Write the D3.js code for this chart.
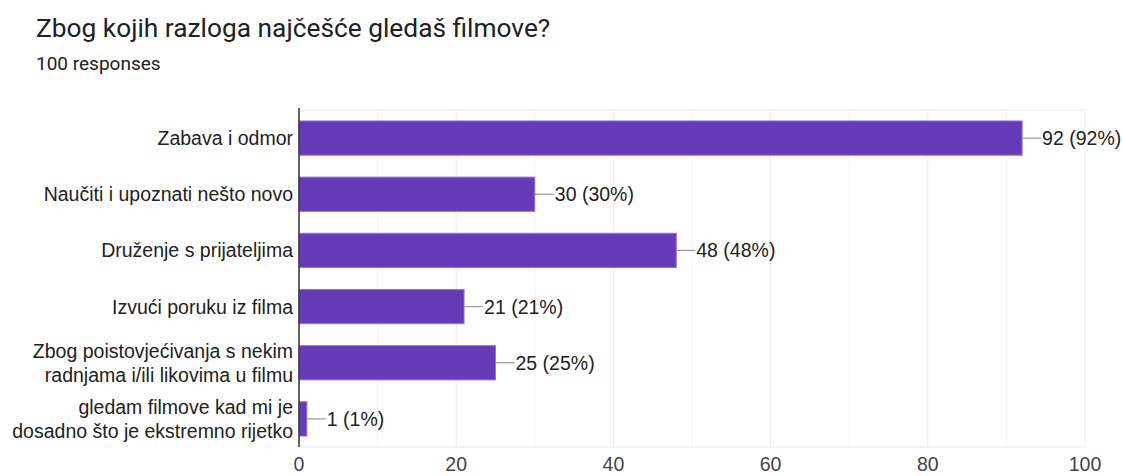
<!DOCTYPE html>
<html><head><meta charset="utf-8">
<script src="https://cdn.jsdelivr.net/npm/d3@7"></script>
<style>body{margin:0;background:#fff;font-family:Roboto,Arial,sans-serif;overflow:hidden}</style>
</head><body><svg id="c" width="1123" height="476"></svg>
<script>
const categories = [
  ["Zabava i odmor"],
  ["Naučiti i upoznati nešto novo"],
  ["Druženje s prijateljima"],
  ["Izvući poruku iz filma"],
  ["Zbog poistovjećivanja s nekim","radnjama i/ili likovima u filmu"],
  ["gledam filmove kad mi je","dosadno što je ekstremno rijetko"]
];
const values = [92, 30, 48, 21, 25, 1];
const total = 100;
const xTicks = [0, 20, 40, 60, 80, 100];
const minorTicks = [10, 30, 50, 70, 90];

const svg = d3.select("#c");
const lab = "'Liberation Sans', Arial, sans-serif";
svg.append("text").attr("x",36).attr("y",37).attr("font-size",26.3).attr("fill","#202124").text("Zbog kojih razloga najčešće gledaš filmove?");
svg.append("text").attr("x",36).attr("y",70).attr("font-size",19).attr("fill","#202124").text("100 responses");

const L=299, R=1085, T=110, B=447;
const x = d3.scaleLinear().domain([0,100]).range([L,R]);
const y = d3.scaleBand().domain(d3.range(values.length)).range([T,B]).paddingInner(0.39).paddingOuter(0.195);

const g = svg.append("g");
g.selectAll(".minor").data(minorTicks).enter().append("line")
  .attr("x1",d=>x(d)).attr("x2",d=>x(d)).attr("y1",T).attr("y2",B).attr("stroke","#f3f3f3").attr("stroke-width",1);
g.selectAll(".major").data(xTicks).enter().append("line")
  .attr("x1",d=>x(d)).attr("x2",d=>x(d)).attr("y1",T).attr("y2",B).attr("stroke","#ebebeb").attr("stroke-width",1);
g.append("line").attr("x1",L).attr("x2",R).attr("y1",T).attr("y2",T).attr("stroke","#ebebeb");
g.append("line").attr("x1",L).attr("x2",R).attr("y1",B).attr("y2",B).attr("stroke","#ebebeb");

g.selectAll(".bar").data(values).enter().append("rect")
  .attr("x",L).attr("y",(d,i)=>y(i)).attr("width",d=>x(d)-L).attr("height",y.bandwidth())
  .attr("fill","#673ab7").attr("stroke","#9575cd").attr("stroke-width",1);

g.selectAll(".lead").data(values).enter().append("line")
  .attr("x1",d=>x(d)).attr("x2",d=>x(d)+19).attr("y1",(d,i)=>y(i)+y.bandwidth()/2).attr("y2",(d,i)=>y(i)+y.bandwidth()/2)
  .attr("stroke","#999").attr("stroke-width",1.2);
g.selectAll(".val").data(values).enter().append("text")
  .attr("x",d=>x(d)+20).attr("y",(d,i)=>y(i)+y.bandwidth()/2).attr("dy","0.36em")
  .attr("font-family",lab).attr("font-size",19.5).attr("fill","#222").text(d=>`${d} (${Math.round(d/total*100)}%)`);

g.append("line").attr("x1",L).attr("x2",L).attr("y1",T-2).attr("y2",B).attr("stroke","#333").attr("stroke-width",1.5);

const cat = g.selectAll(".cat").data(categories).enter().append("text")
  .attr("text-anchor","end").attr("font-family",lab).attr("font-size",19.5).attr("fill","#222");
cat.each(function(lines,i){
  const cy = y(i)+y.bandwidth()/2;
  const lh = 24;
  lines.forEach((t,k)=>{
    d3.select(this).append("tspan").attr("x",L-6)
      .attr("y", cy + (k-(lines.length-1)/2)*lh).attr("dy","0.36em").text(t);
  });
});

g.selectAll(".tick").data(xTicks).enter().append("text")
  .attr("x",d=>x(d)).attr("y",471).attr("text-anchor","middle").attr("font-family",lab).attr("font-size",19.5).attr("fill","#444").text(d=>d);
</script></body></html>
